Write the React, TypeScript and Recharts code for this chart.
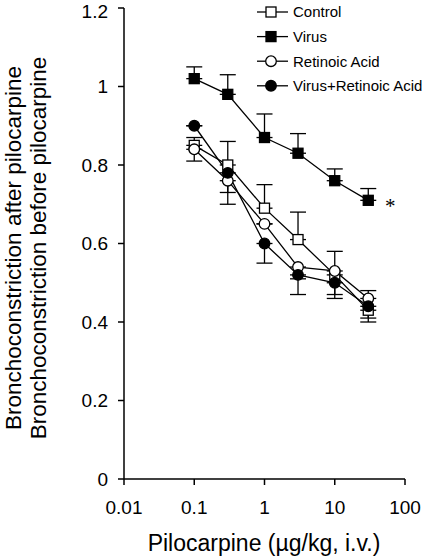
import React from 'react';
import { LineChart, Line, XAxis, YAxis, ErrorBar, LabelList } from 'recharts';

const DOSES = [0.1, 0.3, 1, 3, 10, 30];
const CONTROL = [0.85, 0.8, 0.69, 0.61, 0.52, 0.43];
const CONTROL_UP = [0.02, 0.06, 0.06, 0.07, 0, 0];
const CONTROL_DOWN = [0, 0, 0, 0, 0.05, 0.03];
const VIRUS = [1.02, 0.98, 0.87, 0.83, 0.76, 0.71];
const VIRUS_UP = [0.03, 0.05, 0.06, 0.05, 0.03, 0.03];
const VIRUS_DOWN = [0, 0, 0, 0, 0, 0];
const RA = [0.84, 0.76, 0.65, 0.54, 0.53, 0.46];
const RA_UP = [0, 0, 0, 0, 0.05, 0.02];
const RA_DOWN = [0.03, 0.06, 0, 0.03, 0, 0];
const VRA = [0.9, 0.78, 0.6, 0.52, 0.5, 0.44];
const VRA_UP = [0, 0, 0, 0, 0, 0];
const VRA_DOWN = [0, 0.05, 0.05, 0.05, 0.04, 0.03];

const X_TICKS = [0.01, 0.1, 1, 10, 100];
const Y_TICKS = [0, 0.2, 0.4, 0.6, 0.8, 1, 1.2];
const SERIES_NAMES = ['Control', 'Virus', 'Retinoic Acid', 'Virus+Retinoic Acid'];
const X_LABEL = 'Pilocarpine (\u00b5g/kg, i.v.)';
const Y_LABEL_TOP = 'Bronchoconstriction after pilocarpine';
const Y_LABEL_BOTTOM = 'Bronchoconstriction before pilocarpine';

const FONT = '"Liberation Sans", Arial, sans-serif';

const build = (ys: number[], up: number[], down: number[]) =>
  DOSES.map((x, i) => ({ x, y: ys[i], err: [down[i], up[i]] }));

const controlData = build(CONTROL, CONTROL_UP, CONTROL_DOWN);
const virusData = build(VIRUS, VIRUS_UP, VIRUS_DOWN);
const raData = build(RA, RA_UP, RA_DOWN);
const vraData = build(VRA, VRA_UP, VRA_DOWN);

type Shape = 'square' | 'circle';

const Marker = ({ cx, cy, shape, filled }: { cx: number; cy: number; shape: Shape; filled: boolean }) =>
  shape === 'square' ? (
    <rect x={cx - 5} y={cy - 5} width={10} height={10} fill={filled ? '#000' : '#fff'} stroke="#000" strokeWidth={1.3} />
  ) : (
    <circle cx={cx} cy={cy} r={5.3} fill={filled ? '#000' : '#fff'} stroke="#000" strokeWidth={1.3} />
  );

const makeDot = (shape: Shape, filled: boolean) => (props: any) => {
  const { cx, cy, index } = props;
  if (cx == null || cy == null) return <g key={`d-${index}`} />;
  return (
    <g key={`d-${shape}-${filled}-${index}`}>
      <Marker cx={cx} cy={cy} shape={shape} filled={filled} />
    </g>
  );
};

const STYLES: { shape: Shape; filled: boolean }[] = [
  { shape: 'square', filled: false },
  { shape: 'square', filled: true },
  { shape: 'circle', filled: false },
  { shape: 'circle', filled: true },
];

const LegendBox = () => (
  <svg width={175} height={100} style={{ position: 'absolute', left: 250, top: 0, overflow: 'visible' }}>
    {SERIES_NAMES.map((name, i) => {
      const cy = 12 + i * 24.6;
      return (
        <g key={name}>
          <line x1={7} x2={38} y1={cy} y2={cy} stroke="#000" strokeWidth={1.3} />
          <Marker cx={21} cy={cy} shape={STYLES[i].shape} filled={STYLES[i].filled} />
          <text x={43} y={cy} dy="0.36em" fontSize={15} fontFamily={FONT} fill="#000">
            {name}
          </text>
        </g>
      );
    })}
  </svg>
);

const YLabel = () => (
  <g>
    <text
      x={20.5}
      y={248}
      transform="rotate(-90, 20.5, 248)"
      textAnchor="middle"
      fontSize={22.5}
      fontFamily={FONT}
      fill="#000"
    >
      {Y_LABEL_TOP}
    </text>
    <text
      x={46}
      y={248}
      transform="rotate(-90, 46, 248)"
      textAnchor="middle"
      fontSize={22.5}
      fontFamily={FONT}
      fill="#000"
    >
      {Y_LABEL_BOTTOM}
    </text>
  </g>
);

const XLabel = () => (
  <text x={264} y={551} textAnchor="middle" fontSize={23} fontFamily={FONT} fill="#000">
    {X_LABEL}
  </text>
);

const Asterisk = (props: any) => {
  const { x, y, index } = props;
  if (index !== DOSES.length - 1) return null;
  return (
    <text x={x + 22} y={y + 13} textAnchor="middle" fontSize={21} fontFamily='"Liberation Serif", serif' fill="#000">
      *
    </text>
  );
};

export default function App() {
  const series = [controlData, virusData, raData, vraData];
  return (
    <div style={{ position: 'absolute', left: 0, top: 0, width: 425, height: 557, background: '#fff' }}>
      <LineChart
        width={425}
        height={557}
        margin={{ top: 8, right: 20, left: 0, bottom: 0 }}
        style={{ fontFamily: FONT }}
      >
        <XAxis
          dataKey="x"
          type="number"
          scale="log"
          domain={[0.01, 100]}
          ticks={X_TICKS}
          allowDataOverflow
          height={78}
          tickSize={6}
          tickMargin={16}
          axisLine={{ stroke: '#000', strokeWidth: 1.5 }}
          tickLine={{ stroke: '#000', strokeWidth: 1.5 }}
          tick={{ fontSize: 19, fill: '#000', fontFamily: FONT }}
          label={{ content: () => <XLabel /> }}
        />
        <YAxis
          type="number"
          domain={[0, 1.2]}
          ticks={Y_TICKS}
          width={124}
          tickSize={6}
          tickMargin={10}
          axisLine={{ stroke: '#000', strokeWidth: 1.5 }}
          tickLine={{ stroke: '#000', strokeWidth: 1.5 }}
          tick={{ fontSize: 19, fill: '#000', fontFamily: FONT }}
          label={{ content: () => <YLabel /> }}
        />
        {series.map((data, i) => (
          <Line
            key={SERIES_NAMES[i]}
            data={data}
            dataKey="y"
            name={SERIES_NAMES[i]}
            stroke="#000"
            strokeWidth={1.3}
            isAnimationActive={false}
            dot={makeDot(STYLES[i].shape, STYLES[i].filled)}
            activeDot={false}
          >
            <ErrorBar dataKey="err" direction="y" width={8} stroke="#000" strokeWidth={1.3} />
            {i === 1 ? <LabelList dataKey="y" content={<Asterisk />} /> : null}
          </Line>
        ))}
      </LineChart>
      <LegendBox />
    </div>
  );
}
